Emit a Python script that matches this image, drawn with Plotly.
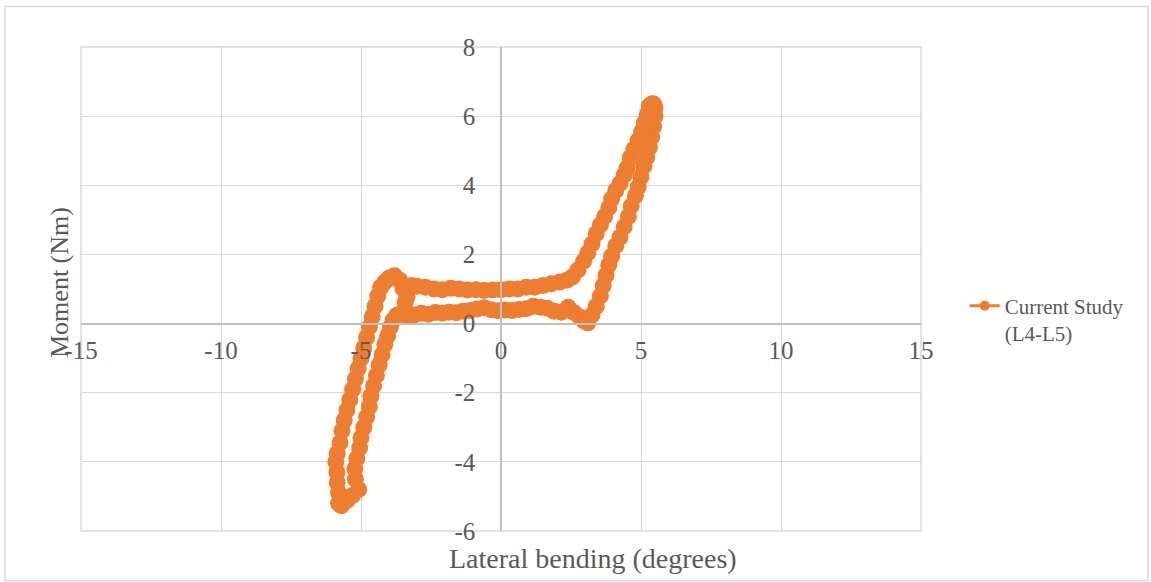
import plotly.graph_objects as go

# Lateral bending hysteresis loop, L4-L5 segment
# rotation angle (degrees), traversed around the loop
lat_bend = [
    # lower plateau, moving right
    -3.6, -3.35, -3.1, -2.85, -2.6, -2.35, -2.1, -1.85, -1.6, -1.35,
    -1.1, -0.85, -0.6, -0.35, -0.1, 0.15, 0.4, 0.65, 0.9, 1.15,
    1.4, 1.65, 1.9, 2.15, 2.4, 2.6, 2.8, 2.95, 3.1,
    # right loading curve, moving up
    3.25, 3.4, 3.55, 3.65, 3.75, 3.85, 3.95, 4.1, 4.25, 4.4,
    4.55, 4.65, 4.8, 4.9, 5.0, 5.1, 5.2, 5.3, 5.38, 5.45,
    5.5, 5.5, 5.45, 5.4, 5.3,
    # right unloading curve, moving down
    5.22, 5.12, 5.02, 4.9, 4.75, 4.62, 4.5, 4.4, 4.25, 4.1,
    3.95, 3.85, 3.7, 3.55, 3.4, 3.25, 3.1, 2.95, 2.75, 2.55, 2.35,
    # upper plateau, moving left
    2.1, 1.8, 1.5, 1.2, 0.9, 0.6, 0.3, 0.0, -0.3, -0.6,
    -0.9, -1.2, -1.5, -1.8, -2.1, -2.4, -2.7, -3.0, -3.2, -3.35,
    -3.42, -3.5, -3.62, -3.8, -4.0, -4.15,
    # left loading curve, moving down
    -4.3, -4.4, -4.5, -4.6, -4.7, -4.8, -4.9, -5.0, -5.1, -5.2,
    -5.3, -5.4, -5.5, -5.6, -5.68, -5.75, -5.85, -5.9, -5.86, -5.85,
    -5.8, -5.8, -5.7,
    # left unloading curve, moving up
    -5.5, -5.3, -5.08, -5.2, -5.22, -5.15, -5.05, -5.0, -4.9, -4.8,
    -4.7, -4.65, -4.55, -4.45, -4.35, -4.25, -4.15, -4.05, -3.95, -3.85,
    -3.72, -3.6,
]

# applied moment (Nm)
moment = [
    0.28, 0.22, 0.25, 0.3, 0.27, 0.32, 0.3, 0.33, 0.31, 0.36,
    0.38, 0.42, 0.46, 0.4, 0.37, 0.39, 0.38, 0.41, 0.43, 0.5,
    0.47, 0.44, 0.36, 0.33, 0.47, 0.32, 0.2, 0.08, 0.02,
    0.25, 0.5, 0.8, 1.1, 1.4, 1.7, 1.95, 2.25, 2.5, 2.8,
    3.1, 3.4, 3.7, 3.95, 4.25, 4.55, 4.8, 5.1, 5.4, 5.7,
    6.0, 6.25, 6.35, 6.36, 6.3,
    6.05, 5.8, 5.55, 5.3, 5.05, 4.8, 4.5, 4.3, 4.05, 3.85,
    3.6, 3.35, 3.1, 2.85, 2.6, 2.3, 2.05, 1.8, 1.55, 1.35, 1.25,
    1.2, 1.15, 1.1, 1.05, 1.05, 1.0, 1.0, 0.98, 0.97, 0.96,
    0.98, 0.97, 1.0, 1.02, 0.98, 1.0, 1.05, 1.08, 1.1, 0.78,
    0.62, 1.0, 1.25, 1.38, 1.32, 1.2,
    1.05, 0.8, 0.5, 0.2, -0.1, -0.4, -0.7, -1.0, -1.3, -1.6,
    -1.9, -2.2, -2.5, -2.8, -3.1, -3.45, -3.75, -4.0, -4.3, -4.6,
    -4.9, -5.2, -5.27,
    -5.12, -4.97, -4.8, -4.5, -4.2, -3.9, -3.6, -3.3, -3.0, -2.7,
    -2.4, -2.1, -1.8, -1.5, -1.2, -0.9, -0.6, -0.35, -0.1, 0.1,
    0.24, 0.28,
]

x_ticks = [-15, -10, -5, 0, 5, 10, 15]
x_tick_text = ["-15", "-10", "-5", "0", "5", "10", "15"]
y_ticks = [-6, -4, -2, 0, 2, 4, 6, 8]
y_tick_text = ["-6", "-4", "-2", "0", "2", "4", "6", "8"]

series_name = "Current Study<br>(L4-L5)"

ORANGE = "#ED7D31"
GRID = "#D9D9D9"
TEXT = "#595959"
FONT = "Liberation Serif"

fig = go.Figure()

fig.add_trace(go.Scatter(
    x=lat_bend, y=moment,
    mode="lines+markers",
    line=dict(color=ORANGE, width=8),
    marker=dict(color=ORANGE, size=17, line=dict(width=0)),
    showlegend=False,
    hoverinfo="x+y",
))

# legend entry with a small marker, as in the spreadsheet style key
fig.add_trace(go.Scatter(
    x=[None], y=[None],
    mode="lines+markers",
    name=series_name,
    line=dict(color=ORANGE, width=3),
    marker=dict(color=ORANGE, size=10),
))

axis_common = dict(
    showgrid=True, gridcolor=GRID, gridwidth=1,
    zeroline=False,
    showline=True, linecolor="#BFBFBF", linewidth=1.5,
    ticks="",
    tickfont=dict(family=FONT, size=25, color=TEXT),
    anchor="free",
)

fig.update_layout(
    width=1151, height=582, autosize=False,
    margin=dict(l=81, r=230, t=47, b=51),
    paper_bgcolor="white", plot_bgcolor="white",
    xaxis=dict(
        range=[-15, 15], tickvals=x_ticks, ticktext=x_tick_text,
        position=6 / 14, ticklabelstandoff=5,
        **axis_common,
    ),
    yaxis=dict(
        range=[-6, 8], tickvals=y_ticks, ticktext=y_tick_text,
        position=0.5, ticklabelstandoff=20,
        **axis_common,
    ),
    legend=dict(
        x=1.052, y=0.507, xanchor="left", yanchor="top",
        font=dict(family=FONT, size=21, color=TEXT),
        valign="top", bgcolor="rgba(0,0,0,0)",
    ),
    annotations=[
        dict(text="Lateral bending (degrees)", xref="paper", yref="paper",
             x=0.6095, y=-0.0558, xanchor="center", yanchor="middle",
             showarrow=False, font=dict(family=FONT, size=28, color=TEXT)),
        dict(text="Moment (Nm)", xref="paper", yref="paper",
             x=-0.025, y=0.5124, xanchor="center", yanchor="middle",
             textangle=-90, showarrow=False,
             font=dict(family=FONT, size=26, color=TEXT)),
    ],
    shapes=[
        # outer chart frame
        dict(type="rect", xref="paper", yref="paper",
             x0=-0.0905, x1=1.2702, y0=-0.1023, y1=1.0837,
             line=dict(color=GRID, width=1.5), layer="below"),
        # plot area edges
        dict(type="rect", xref="paper", yref="paper",
             x0=0, x1=1, y0=0, y1=1,
             line=dict(color=GRID, width=1.5), layer="below"),
    ],
)

fig.write_html("out.html")
